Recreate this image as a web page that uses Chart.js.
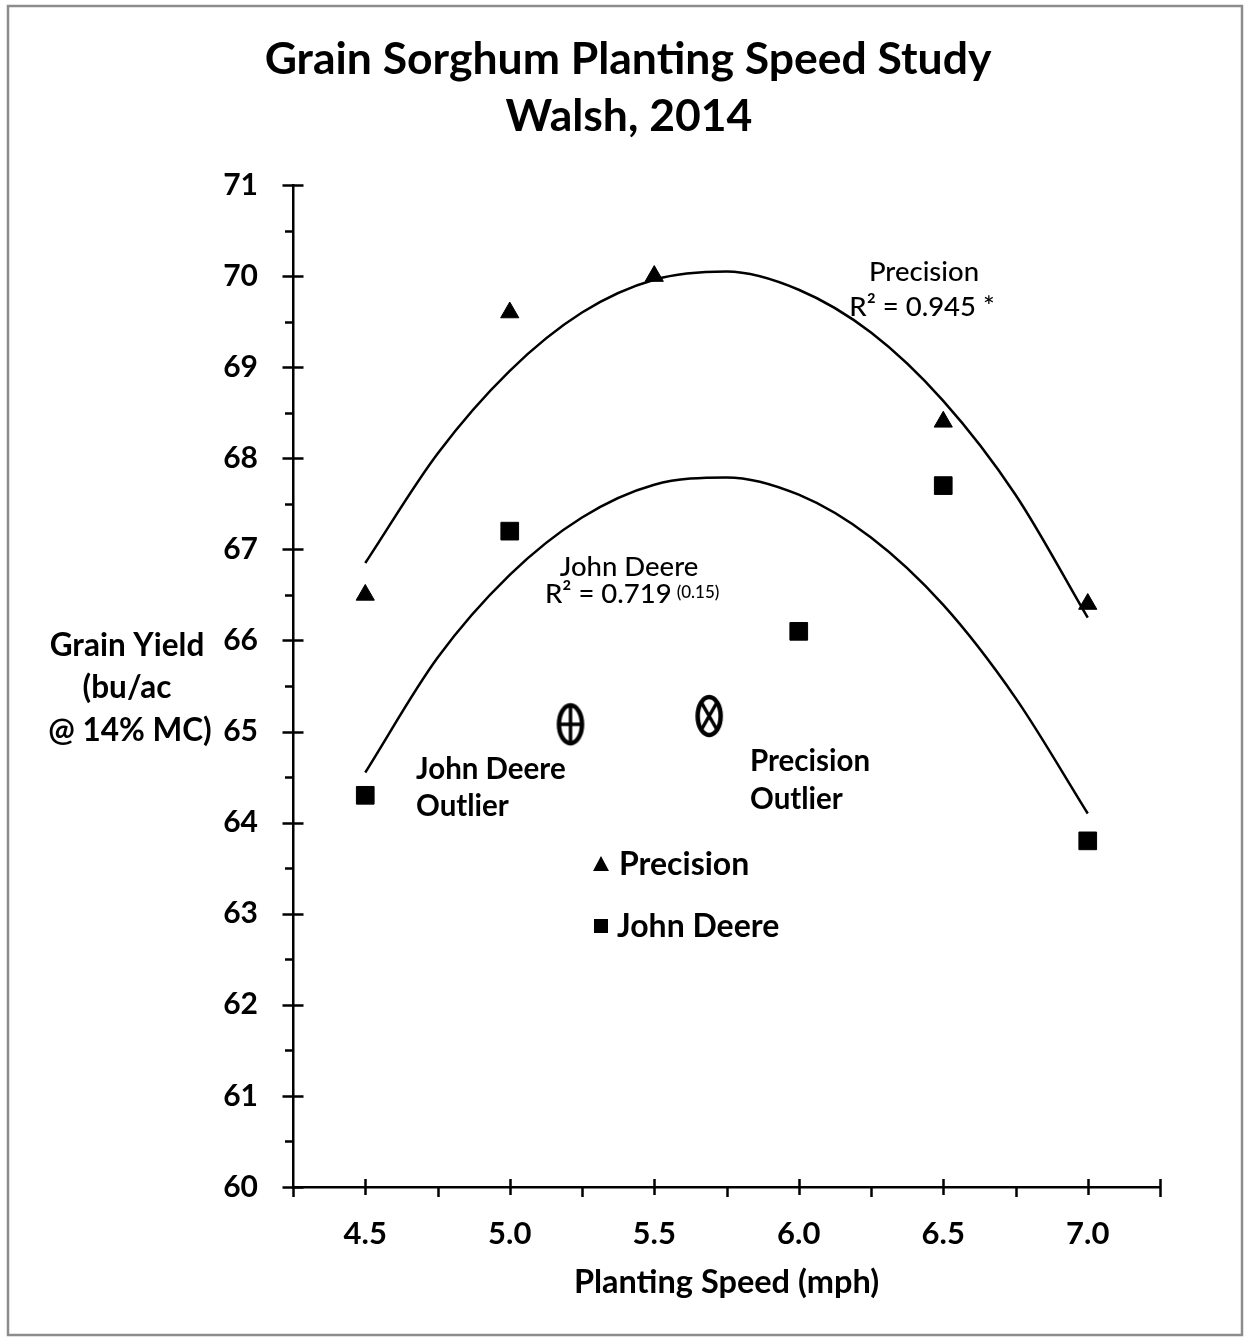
<!DOCTYPE html>
<html>
<head>
<meta charset="utf-8">
<title>Grain Sorghum Planting Speed Study</title>
<script src="https://cdn.jsdelivr.net/npm/chart.js@4.4.1/dist/chart.umd.min.js"></script>
<style>
    html, body { margin: 0; padding: 0; background: #fff; }
    #caixa { position: relative; width: 1245px; height: 1339px; }
</style>
</head>
<body>
<div id="caixa"><canvas id="graficoSorgo"></canvas></div>
<script>
// > values (yield in bu/ac @ 14% MC)
var velocidades = [4.5, 5.0, 5.5, 6.0, 6.5, 7.0];
var precisao = [66.5, 69.6, 70.0, null, 68.4, 66.4];
var johnDeere = [64.3, 67.2, null, 66.1, 67.7, 63.8];

// > the two outlier markers (speed, yield)
var outlierPrecisao = [5.69, 65.17];
var outlierJohnDeere = [5.21, 65.08];

// > trend curves
var curvaX = [4.5, 4.75, 5.0, 5.25, 5.5, 5.75, 6.0, 6.25, 6.5, 6.75, 7.0];
var curvaPrecisao = [66.85, 68.05, 68.96, 69.6, 69.96, 70.05, 69.85, 69.38, 68.63, 67.6, 66.25];
var curvaJohnDeere = [64.55, 65.81, 66.72, 67.35, 67.71, 67.79, 67.6, 67.13, 66.39, 65.37, 64.1];

var xLabels = ["4.5", "5.0", "5.5", "6.0", "6.5", "7.0"];

var FONTE = "Lato, 'Open Sans', sans-serif";

function pares(xs, ys) {
    var r = [];
    for (var i = 0; i < xs.length; i++) {
        if (ys[i] != null) r.push({ x: xs[i], y: ys[i] });
    }
    return r;
}

// * ellipse markers for the outliers
function marcaOutlier(tipo) {
    var c = document.createElement('canvas');
    c.width = 32; c.height = 46;
    var g = c.getContext('2d');
    g.strokeStyle = '#000';
    g.lineWidth = 4.5;
    g.beginPath();
    g.ellipse(16, 23, 11.5, 19, 0, 0, Math.PI * 2);
    g.stroke();
    g.lineWidth = 3.5;
    g.beginPath();
    if (tipo == '+') {
        g.moveTo(16, 5); g.lineTo(16, 41);
        g.moveTo(5, 23); g.lineTo(27, 23);
    } else {
        g.moveTo(8, 9); g.lineTo(24, 37);
        g.moveTo(24, 9); g.lineTo(8, 37);
    }
    g.stroke();
    return c;
}

var data = {
    datasets: [
        {
            label: "Precision trend",
            data: pares(curvaX, curvaPrecisao),
            showLine: true,
            borderColor: "#000",
            borderWidth: 2.5,
            pointRadius: 0,
            cubicInterpolationMode: 'monotone'
        },
        {
            label: "John Deere trend",
            data: pares(curvaX, curvaJohnDeere),
            showLine: true,
            borderColor: "#000",
            borderWidth: 2.5,
            pointRadius: 0,
            cubicInterpolationMode: 'monotone'
        },
        {
            label: "Precision",
            data: pares(velocidades, precisao),
            pointStyle: 'triangle',
            pointRadius: 10.5,
            backgroundColor: "#000",
            borderColor: "#000",
            borderWidth: 1
        },
        {
            label: "John Deere",
            data: pares(velocidades, johnDeere),
            pointStyle: 'rect',
            pointRadius: 12.5,
            backgroundColor: "#000",
            borderColor: "#000",
            borderWidth: 1
        },
        {
            label: "John Deere Outlier",
            data: [{ x: outlierJohnDeere[0], y: outlierJohnDeere[1] }],
            pointStyle: marcaOutlier('+'),
            pointRadius: 10
        },
        {
            label: "Precision Outlier",
            data: [{ x: outlierPrecisao[0], y: outlierPrecisao[1] }],
            pointStyle: marcaOutlier('x'),
            pointRadius: 10
        }
    ]
};

// ! everything that is not a data mark: frame, titles, ticks, notes, legend
var extras = {
    id: 'extras',
    beforeDraw: function (chart) {
        var ctx = chart.ctx;
        ctx.save();
        ctx.fillStyle = "#fff";
        ctx.fillRect(0, 0, chart.width, chart.height);
        ctx.strokeStyle = "#8c8c8c";
        ctx.lineWidth = 2.5;
        ctx.strokeRect(8, 6, 1234, 1329);
        ctx.restore();
    },
    afterDraw: function (chart) {
        var ctx = chart.ctx;
        var xs = chart.scales.x, ys = chart.scales.y;
        var esq = chart.chartArea.left, base = chart.chartArea.bottom;
        ctx.save();

        // tick marks
        ctx.strokeStyle = "#000";
        ctx.lineWidth = 2.5;
        ctx.beginPath();
        ys.ticks.forEach(function (t) {
            var p = Math.round(ys.getPixelForValue(t.value)) + 0.5;
            if (Number.isInteger(t.value)) {
                ctx.moveTo(esq - 10.5, p); ctx.lineTo(esq + 10.5, p);
            } else {
                ctx.moveTo(esq - 8, p); ctx.lineTo(esq, p);
            }
        });
        xs.ticks.forEach(function (t) {
            var p = Math.round(xs.getPixelForValue(t.value)) + 0.5;
            var meio = Math.abs(t.value * 2 - Math.round(t.value * 2)) < 1e-6;
            if (t.value >= xs.max - 1e-6) {
                ctx.moveTo(p, base - 8); ctx.lineTo(p, base + 10);
            } else if (meio) {
                ctx.moveTo(p, base - 8); ctx.lineTo(p, base + 8);
            } else {
                ctx.moveTo(p, base); ctx.lineTo(p, base + 10);
            }
        });
        ctx.stroke();

        ctx.fillStyle = "#000";
        ctx.textAlign = "center";
        ctx.textBaseline = "alphabetic";

        // title
        ctx.font = "bold 44.5px " + FONTE;
        ctx.fillText("Grain Sorghum Planting Speed Study", 628, 74);
        ctx.fillText("Walsh, 2014", 629, 131);

        // axis titles
        ctx.font = "bold 32.5px " + FONTE;
        ctx.fillText("Planting Speed (mph)", (chart.chartArea.left + chart.chartArea.right) / 2, 1293);
        ctx.font = "bold 31.5px " + FONTE;
        ctx.fillText("Grain Yield", 127, 656);
        ctx.fillText("(bu/ac", 127, 698);
        ctx.fillText("@ 14% MC)", 130, 741);

        // trend notes
        ctx.font = "500 27.5px " + FONTE;
        ctx.fillText("Precision", 924, 281);
        ctx.fillText("R\u00B2 = 0.945 *", 922, 316);
        ctx.fillText("John Deere", 629, 576);
        ctx.textAlign = "left";
        ctx.fillText("R\u00B2 = 0.719", 545, 603);
        var w = ctx.measureText("R\u00B2 = 0.719").width;
        ctx.font = "500 17px " + FONTE;
        ctx.fillText("(0.15)", 545 + w + 5, 598);

        // outlier notes
        ctx.font = "bold 29.5px " + FONTE;
        ctx.fillText("John Deere", 416, 779);
        ctx.fillText("Outlier", 416, 816);
        ctx.fillText("Precision", 750, 771);
        ctx.fillText("Outlier", 750, 809);

        // legend
        ctx.beginPath();
        ctx.moveTo(601, 856); ctx.lineTo(609, 871); ctx.lineTo(593, 871);
        ctx.closePath();
        ctx.fill();
        ctx.fillRect(594, 919, 14, 14);
        ctx.font = "bold 32px " + FONTE;
        ctx.textBaseline = "middle";
        ctx.fillText("Precision", 619, 865);
        ctx.fillText("John Deere", 617, 927);

        ctx.restore();
    }
};

var options = {
    responsive: false,
    animation: false,
    layout: { padding: { top: 185, left: 0, right: 85, bottom: 0 } },
    plugins: {
        legend: { display: false },
        tooltip: { enabled: false }
    },
    scales: {
        x: {
            type: 'linear',
            min: 4.25,
            max: 7.25,
            afterFit: function (s) { s.height = 152; },
            grid: { display: false },
            border: { display: true, color: "#000", width: 2.5 },
            ticks: {
                stepSize: 0.25,
                padding: 20,
                color: "#000",
                font: { family: FONTE, size: 31, weight: 'bold' },
                callback: function (v) {
                    var i = velocidades.indexOf(Math.round(v * 100) / 100);
                    return i >= 0 ? xLabels[i] : '';
                }
            }
        },
        y: {
            type: 'linear',
            min: 60,
            max: 71,
            afterFit: function (s) { s.width = 293; },
            grid: { display: false },
            border: { display: true, color: "#000", width: 2.5 },
            ticks: {
                stepSize: 0.5,
                padding: 27,
                color: "#000",
                font: { family: FONTE, size: 30, weight: 'bold' },
                callback: function (v) {
                    return Number.isInteger(v) ? String(v) : '';
                }
            }
        }
    }
};

var cv = document.getElementById("graficoSorgo");
cv.width = 1245;
cv.height = 1339;
var grafico = new Chart(cv.getContext("2d"), {
    type: "scatter",
    data: data,
    options: options,
    plugins: [extras]
});
</script>
</body>
</html>
